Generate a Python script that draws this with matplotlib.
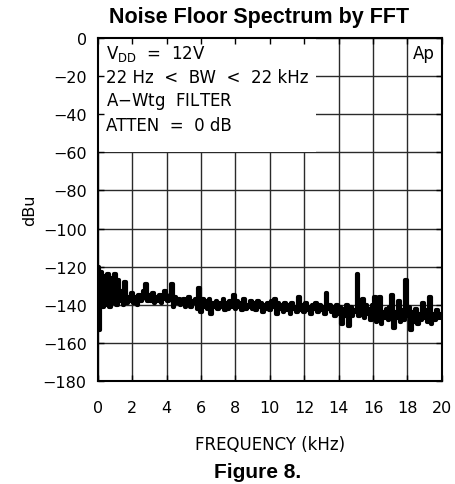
import numpy as np
import matplotlib
matplotlib.use("Agg")
import matplotlib.pyplot as plt
from matplotlib.patches import Rectangle

# frequency axis, 0.1 kHz steps
freq_khz = np.round(np.arange(0, 20.01, 0.1), 1)

# noise floor (dBu)
noise_dbu = [
    -120, -153, -123, -141, -125, -140, -124, -141, -126, -139,
    -124, -140, -127, -138, -133, -140, -128, -139, -136, -138,
    -134, -139, -136, -140, -135, -138, -137, -133, -129, -138,
    -135, -138, -134, -139, -136, -138, -135, -139, -137, -133,
    -135, -138, -136, -129, -141, -136, -139, -137, -140, -138,
    -137, -141, -138, -136, -141, -138, -139, -137, -142, -131,
    -144, -137, -141, -138, -142, -137, -145, -139, -141, -138,
    -142, -139, -141, -137, -143, -139, -142, -138, -141, -135,
    -142, -138, -141, -139, -143, -137, -142, -140, -141, -138,
    -142, -139, -143, -138, -141, -139, -144, -140, -142, -139,
    -143, -138, -141, -137, -145, -139, -142, -140, -144, -139,
    -143, -140, -145, -139, -142, -141, -144, -136, -143, -140,
    -144, -139, -143, -141, -145, -140, -142, -139, -144, -140,
    -143, -141, -145, -134, -142, -140, -144, -141, -146, -140,
    -145, -141, -150, -142, -146, -140, -151, -141, -146, -143,
    -144, -124, -146, -142, -137, -147, -140, -145, -142, -148,
    -140, -136, -149, -143, -136, -150, -144, -147, -142, -148,
    -141, -135, -152, -144, -147, -138, -149, -143, -148, -127,
    -146, -141, -153, -144, -149, -142, -150, -145, -148, -139,
    -147, -143, -149, -136, -150, -145, -148, -143, -147, -145, -147,
]

xticks = list(range(0, 21, 2))
yticks = list(range(-180, 1, 20))
box_lines = [r"V$_{\mathregular{DD}}$  =  12V", "22 Hz  <  BW  <  22 kHz",
             "A$-$Wtg  FILTER", "ATTEN  =  0 dB"]

fig = plt.figure(figsize=(4.55, 4.85), dpi=100)
ax = fig.add_axes([0.215, 0.2124, 0.756, 0.7072])

ax.set_xlim(0, 20)
ax.set_ylim(-180, 0)

# grid drawn by hand so the legend box can cover it
ax.vlines(xticks, -180, 0, colors="#2a2a2a", lw=1.0, zorder=0.5)
ax.hlines(yticks, 0, 20, colors="#2a2a2a", lw=1.0, zorder=0.5)
ax.add_patch(Rectangle((0, -60), 12.7, 60, facecolor="white", edgecolor="none", zorder=0.8))

ax.plot(freq_khz, noise_dbu, color="black", lw=3.0, drawstyle="steps-mid", zorder=2)

ax.set_xticks(xticks)
ax.set_yticks(yticks)
ax.set_yticklabels([f"\u2212{abs(v)}" if v else "0" for v in yticks])
ax.tick_params(direction="in", length=4, width=1, top=True, right=True,
               labelsize=11.5)
ax.tick_params(axis="x", pad=14)
ax.tick_params(axis="y", pad=8)
for s in ax.spines.values():
    s.set_linewidth(1.5)

ax.set_xlabel("FREQUENCY (kHz)", fontsize=12, labelpad=14)
ax.set_ylabel("dBu", fontsize=11.5, labelpad=4)

for i, t in enumerate(box_lines):
    ax.text(0.45, -8 - i * 12.5, t, fontsize=12, va="center", ha="left", zorder=3)
ax.text(19.6, -8, "Ap", fontsize=12, va="center", ha="right", zorder=3)

fig.text(0.57, 0.963, "Noise Floor Spectrum by FFT", ha="center", va="center",
         fontsize=15.5, fontweight="bold", family="Liberation Sans")
fig.text(0.565, 0.006, "Figure 8.", ha="center", va="bottom",
         fontsize=15, fontweight="bold", family="Liberation Sans")

fig.savefig("out.png", dpi=100)
